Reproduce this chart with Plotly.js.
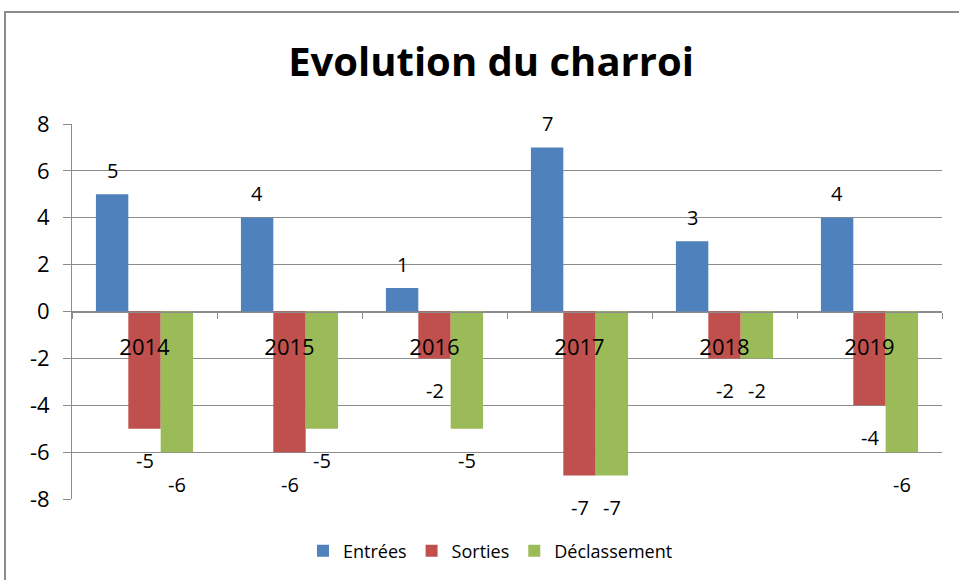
<!DOCTYPE html>
<html>
<head>
<meta charset="utf-8">
<script src="https://cdn.plot.ly/plotly-3.0.1.min.js"></script>
<style>
  html, body { margin: 0; padding: 0; background: #fff; overflow: hidden; }
  #frame { position: absolute; left: 4px; top: 11px; width: 1000px; height: 1000px;
           border: 2px solid #8c8c8c; }
  #chart { position: absolute; left: 0; top: 0; width: 959px; height: 580px; }
</style>
</head>
<body>
<div id="frame"></div>
<div id="chart"></div>
<script>
(function() {
  var YEARS = ['2014', '2015', '2016', '2017', '2018', '2019'];
  var ENTREES = [5, 4, 1, 7, 3, 4];
  var SORTIES = [-5, -6, -2, -7, -2, -4];
  var DECLASSEMENT = [-6, -5, -5, -7, -2, -6];
  var Y_TICKS = [-8, -6, -4, -2, 0, 2, 4, 6, 8];

  var COLORS = ['#4f81bd', '#c0504d', '#9bbb59'];
  var FONT = 'Open Sans, Liberation Sans, sans-serif';
  var GRID = '#8c8c8c';

  var ML = 72, MR = 17, MT = 124, MB = 80, W = 959;
  var BARGAP = 0.33;
  var barPx = (W - ML - MR) / YEARS.length * (1 - BARGAP) / 3;

  var series = [
    {name: 'Entrées', vals: ENTREES},
    {name: 'Sorties', vals: SORTIES},
    {name: 'Déclassement', vals: DECLASSEMENT}
  ];

  var traces = series.map(function(s, i) {
    return {
      type: 'bar', x: YEARS, y: s.vals, name: s.name,
      marker: {color: COLORS[i], line: {width: 0}},
      hoverinfo: 'x+y+name'
    };
  });

  // data labels, offset from each bar end like the Excel original
  // (category axis: annotation x is the category index)
  var annotations = [];
  series.forEach(function(s, i) {
    s.vals.forEach(function(v, j) {
      annotations.push({
        x: j, y: v, xref: 'x', yref: 'y',
        text: String(v), showarrow: false,
        xshift: (i - 1) * barPx,
        yshift: v > 0 ? 24 : -32,
        font: {family: FONT, size: 20, color: '#000'}
      });
    });
  });

  var layout = {
    width: 959, height: 580,
    margin: {l: ML, r: MR, t: MT, b: MB},
    paper_bgcolor: 'rgba(0,0,0,0)', plot_bgcolor: 'rgba(0,0,0,0)',
    barmode: 'group', bargap: BARGAP, bargroupgap: 0,
    title: {
      text: '<b>Evolution du charroi</b>',
      font: {family: FONT, size: 40, color: '#000'},
      xref: 'container', x: 0.512, xanchor: 'center',
      yref: 'container', y: 0.893, yanchor: 'middle'
    },
    xaxis: {
      type: 'category', range: [-0.5, YEARS.length - 0.5],
      anchor: 'free', position: 0.5,
      showline: true, linecolor: GRID, linewidth: 1,
      ticks: 'outside', tickson: 'boundaries', ticklen: 6, tickcolor: GRID,
      ticklabelstandoff: 16, tickangle: 0,
      showgrid: false, zeroline: false,
      tickfont: {family: FONT, size: 22, color: '#000'},
      layer: 'above traces'
    },
    yaxis: {
      range: [-8, 8],
      tickmode: 'array', tickvals: Y_TICKS,
      ticktext: Y_TICKS.map(function(t) { return String(t); }),
      showline: true, linecolor: GRID, linewidth: 1,
      ticks: 'outside', ticklen: 8, tickcolor: GRID,
      ticklabelstandoff: 9,
      showgrid: true, gridcolor: GRID, gridwidth: 1,
      zeroline: false,
      tickfont: {family: FONT, size: 22, color: '#000'}
    },
    legend: {
      orientation: 'h', x: 0.481, xanchor: 'center', y: -0.136, yanchor: 'middle',
      font: {family: FONT, size: 18, color: '#000'},
      bgcolor: 'rgba(0,0,0,0)'
    },
    annotations: annotations,
    showlegend: true
  };

  Plotly.newPlot('chart', traces, layout, {displayModeBar: false, staticPlot: true});
})();
</script>
</body>
</html>
